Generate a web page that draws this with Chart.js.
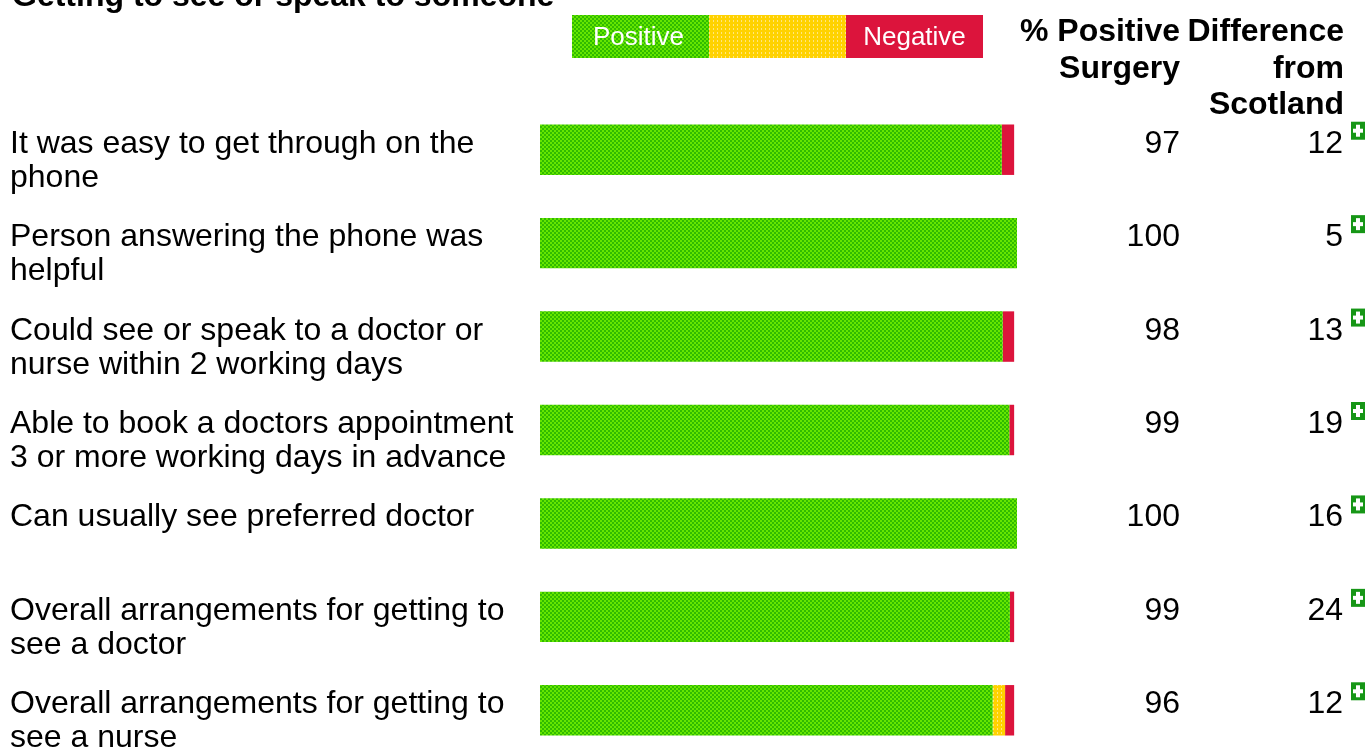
<!DOCTYPE html>
<html>
<head>
<meta charset="utf-8">
<script src="https://cdn.jsdelivr.net/npm/chart.js@4"></script>
<style>
  html, body { margin: 0; padding: 0; background: #fff; overflow: hidden; }
  #wrap { position: absolute; left: 0; top: 0; width: 1367px; height: 800px; }
</style>
</head>
<body>
<div id="wrap"><canvas id="myChart" width="1367" height="800"></canvas></div>
<script>
var title = 'Getting to see or speak to someone';
var categories = [
  ['It was easy to get through on the', 'phone'],
  ['Person answering the phone was', 'helpful'],
  ['Could see or speak to a doctor or', 'nurse within 2 working days'],
  ['Able to book a doctors appointment', '3 or more working days in advance'],
  ['Can usually see preferred doctor'],
  ['Overall arrangements for getting to', 'see a doctor'],
  ['Overall arrangements for getting to', 'see a nurse']
];
var positive = [96.8, 100, 97.0, 98.4, 100, 98.5, 94.9];
var neutral  = [0, 0, 0, 0, 0, 0, 2.6];
var negative = [2.6, 0, 2.4, 1.0, 0, 0.9, 1.9];
var pctPositive = [97, 100, 98, 99, 100, 99, 96];
var diffScotland = [12, 5, 13, 19, 16, 24, 12];
var headerCol1 = ['% Positive', 'Surgery'];
var headerCol2 = ['Difference', 'from', 'Scotland'];

var FONT = '"Liberation Sans", Arial, sans-serif';

// checker / stripe textures like the original bars
function makePattern(base, alt, kind){
  var c = document.createElement('canvas');
  c.width = 4; c.height = 4;
  var g = c.getContext('2d');
  g.fillStyle = base;
  g.fillRect(0, 0, 4, 4);
  g.fillStyle = alt;
  if (kind === 'checker'){
    g.fillRect(0, 0, 2, 2);
    g.fillRect(2, 2, 2, 2);
  } else {
    g.fillRect(1, 0, 1, 2);
  }
  return document.getElementById('myChart').getContext('2d').createPattern(c, 'repeat');
}
var greenFill = makePattern('#30bb00', '#66e600', 'checker');
var yellowFill = makePattern('#ffd200', '#ffe680', 'stripe');
var redFill = '#dc143c';

var textPlugin = {
  id: 'sideText',
  afterDraw: function(chart){
    var ctx = chart.ctx;
    var y = chart.scales.y;
    ctx.save();
    ctx.fillStyle = '#000';
    ctx.textBaseline = 'alphabetic';

    // title (cut off at the top in the original)
    ctx.font = 'bold 32px ' + FONT;
    ctx.textAlign = 'left';
    ctx.fillText(title, 12, 6);

    // column headers
    ctx.textAlign = 'right';
    for (var i = 0; i < headerCol1.length; i++){
      ctx.fillText(headerCol1[i], 1180, 41 + i * 36.5);
    }
    for (var i = 0; i < headerCol2.length; i++){
      ctx.fillText(headerCol2[i], 1344, 41 + i * 36.5);
    }

    // legend strip
    var lx = 572, lw = 137, ly = 15, lh = 43;
    ctx.fillStyle = greenFill;
    ctx.fillRect(lx, ly, lw, lh);
    ctx.fillStyle = yellowFill;
    ctx.fillRect(lx + lw, ly, lw, lh);
    ctx.fillStyle = redFill;
    ctx.fillRect(lx + 2 * lw, ly, lw, lh);
    ctx.fillStyle = '#fff';
    ctx.font = '26px ' + FONT;
    ctx.textAlign = 'center';
    ctx.fillText('Positive', lx + lw / 2 - 2, 45);
    ctx.fillText('Negative', lx + 2.5 * lw, 45);

    for (var i = 0; i < categories.length; i++){
      var cy = y.getPixelForValue(i);
      ctx.fillStyle = '#000';
      ctx.font = '32px ' + FONT;
      ctx.textAlign = 'left';
      for (var j = 0; j < categories[i].length; j++){
        ctx.fillText(categories[i][j], 10, cy + 3 + j * 34);
      }
      ctx.textAlign = 'right';
      ctx.fillText(String(pctPositive[i]), 1180, cy + 3);
      ctx.fillText(String(diffScotland[i]), 1343, cy + 3);

      // green plus icon
      var ix = 1351, iy = cy - 28;
      ctx.fillStyle = '#169616';
      ctx.fillRect(ix, iy, 14, 18);
      ctx.fillStyle = '#fff';
      ctx.fillRect(ix + 5, iy + 3, 4, 12);
      ctx.fillRect(ix + 2, iy + 7, 10, 4);
    }
    ctx.restore();
  }
};

var ctx = document.getElementById('myChart');
var myChart = new Chart(ctx, {
  type: 'bar',
  data: {
    labels: categories,
    datasets: [
      { label: 'Positive', data: positive, backgroundColor: greenFill, borderWidth: 0 },
      { label: 'Neutral', data: neutral, backgroundColor: yellowFill, borderWidth: 0 },
      { label: 'Negative', data: negative, backgroundColor: redFill, borderWidth: 0 }
    ]
  },
  options: {
    indexAxis: 'y',
    responsive: false,
    animation: false,
    events: [],
    layout: { padding: { left: 540, right: 350, top: 103, bottom: 43 } },
    datasets: { bar: { barPercentage: 0.54, categoryPercentage: 1 } },
    plugins: { legend: { display: false }, tooltip: { enabled: false }, title: { display: false } },
    scales: {
      x: { stacked: true, min: 0, max: 100, display: false },
      y: { stacked: true, display: false }
    }
  },
  plugins: [textPlugin]
});
</script>
</body>
</html>
